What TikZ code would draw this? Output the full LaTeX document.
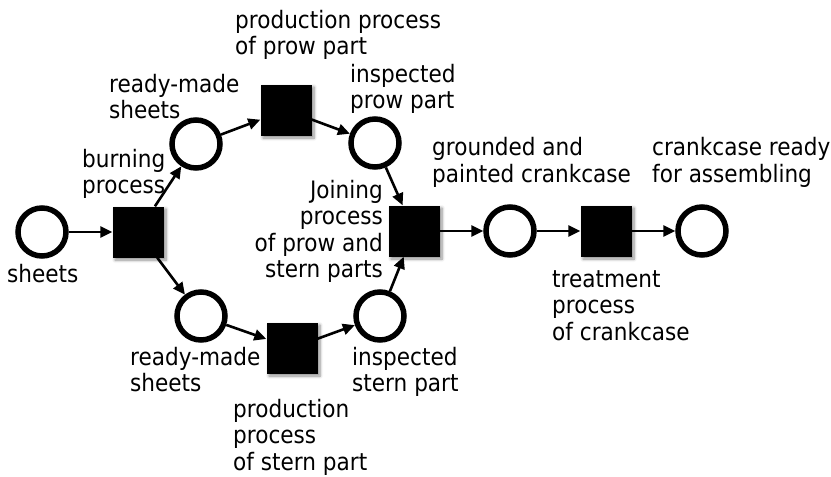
\documentclass[tikz,border=0pt]{standalone}
\usepackage{fontspec}
\setmainfont{DejaVu Sans}[FakeStretch=0.9]
\usetikzlibrary{arrows.meta,shadows.blur}
\begin{document}
\begin{tikzpicture}[x=1pt,y=1pt,
  place/.style={circle,draw=black,line width=5.5pt,minimum size=48pt,inner sep=0pt,fill=white},
  transition/.style={rectangle,fill=black,minimum size=51pt,inner sep=0pt,
    blur shadow={shadow xshift=2.5pt,shadow yshift=-2.5pt,shadow blur radius=3pt,shadow blur steps=6,shadow opacity=45}},
  arc/.style={line width=2.6pt,-{Triangle[length=12pt,width=11pt]}},
  lbl/.style={inner sep=0pt,align=left,font=\fontsize{24}{26.5}\selectfont},
  lblr/.style={inner sep=0pt,align=right,font=\fontsize{24}{26.5}\selectfont}]
\useasboundingbox (0,0) rectangle (831,-477);

% places
\node[place] (p1) at (42,-232) {};
\node[place] (p2) at (196,-144) {};
\node[place] (p3) at (201,-316) {};
\node[place] (p4) at (375,-143) {};
\node[place] (p5) at (380,-316) {};
\node[place] (p6) at (510,-231) {};
\node[place] (p7) at (702,-231) {};

% transitions
\node[transition] (t1) at (138,-232) {};
\node[transition] (t2) at (286,-110) {};
\node[transition] (t3) at (292,-348) {};
\node[transition] (t4) at (414,-231) {};
\node[transition] (t5) at (606,-231) {};

% arcs
\draw[arc] (p1) -- (t1);
\draw[arc] (t1) -- (p2);
\draw[arc] (t1) -- (p3);
\draw[arc] (p2) -- (t2);
\draw[arc] (t2) -- (p4);
\draw[arc] (p3) -- (t3);
\draw[arc] (t3) -- (p5);
\draw[arc] (p4) -- (t4);
\draw[arc] (p5) -- (t4);
\draw[arc] (t4) -- (p6);
\draw[arc] (p6) -- (t5);
\draw[arc] (t5) -- (p7);

% labels (anchored at the baseline of their last line)
\node[lbl,anchor=base west] (l1) at (7,-282) {sheets};
\node[lbl,anchor=base west] (l2) at (82,-193.5) {burning\\process};
\node[lbl,anchor=base west] (l3) at (109,-118.5) {ready-made\\sheets};
\node[lbl,anchor=base west] (l4) at (235,-54.5) {production process\\of prow part};
\node[lbl,anchor=base west] (l5) at (350,-108.5) {inspected\\prow part};
\node[lblr,anchor=base east] (l6) at (383,-277.5) {Joining\\process\\of prow and\\stern parts};
\node[lbl,anchor=base west] (l7) at (432,-182) {grounded and\\painted crankcase};
\node[lbl,anchor=base west] (l8) at (652,-182) {crankcase ready\\for assembling};
\node[lbl,anchor=base west] (l9) at (552,-340) {treatment\\process\\of crankcase};
\node[lbl,anchor=base west] (l10) at (130,-391.5) {ready-made\\sheets};
\node[lbl,anchor=base west] (l11) at (352,-391.5) {inspected\\stern part};
\node[lbl,anchor=base west] (l12) at (233,-470) {production\\process\\of stern part};
\end{tikzpicture}
\end{document}
